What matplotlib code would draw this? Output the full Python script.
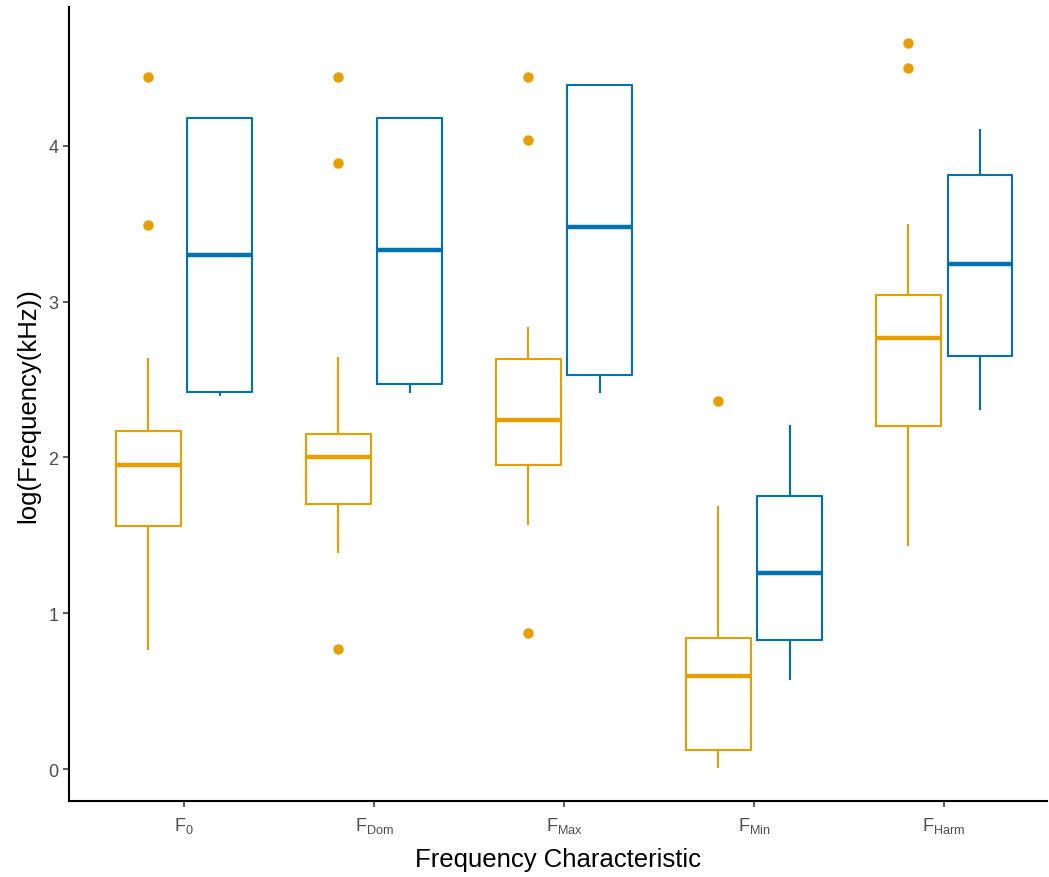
import numpy as np
import matplotlib
matplotlib.use('Agg')
import matplotlib.pyplot as plt

plt.rcParams['font.family'] = ['Liberation Sans', 'DejaVu Sans']

categories = ['F0', 'FDom', 'FMax', 'FMin', 'FHarm']
tick_labels = [r'$\mathregular{F_{0}}$', r'$\mathregular{F_{Dom}}$', r'$\mathregular{F_{Max}}$',
               r'$\mathregular{F_{Min}}$', r'$\mathregular{F_{Harm}}$']

# five-number summaries per characteristic (lower whisker, q1, median, q3, upper whisker)
group_a_low = [0.77, 1.39, 1.57, 0.01, 1.44]
group_a_q1 = [1.56, 1.70, 1.95, 0.12, 2.20]
group_a_med = [1.95, 2.00, 2.24, 0.60, 2.77]
group_a_q3 = [2.17, 2.15, 2.63, 0.84, 3.04]
group_a_high = [2.63, 2.64, 2.83, 1.68, 3.49]
group_a_out = [[4.44, 3.49], [4.44, 3.89, 0.77], [4.44, 4.04, 0.87], [2.36], [4.66, 4.50]]

group_b_low = [2.40, 2.42, 2.42, 0.58, 2.31]
group_b_q1 = [2.42, 2.47, 2.53, 0.83, 2.65]
group_b_med = [3.30, 3.33, 3.48, 1.26, 3.24]
group_b_q3 = [4.18, 4.18, 4.39, 1.75, 3.81]
group_b_high = [4.18, 4.18, 4.39, 2.20, 4.10]
group_b_out = [[], [], [], [], []]

col_a = '#E69F00'
col_b = '#0072B2'


def make_stats(low, q1, med, q3, high, out):
    stats = []
    for i in range(len(low)):
        stats.append({'whislo': low[i], 'q1': q1[i], 'med': med[i], 'q3': q3[i],
                      'whishi': high[i], 'fliers': out[i]})
    return stats


fig = plt.figure(figsize=(10.49, 8.78), dpi=100)
ax = fig.add_axes([0.0658, 0.0866, 0.932, 0.904])

x = np.arange(1, len(categories) + 1)
offset = 0.188
width = 0.34

for stats, pos, col in [
    (make_stats(group_a_low, group_a_q1, group_a_med, group_a_q3, group_a_high, group_a_out), x - offset, col_a),
    (make_stats(group_b_low, group_b_q1, group_b_med, group_b_q3, group_b_high, group_b_out), x + offset, col_b),
]:
    ax.bxp(stats, positions=pos, widths=width, showcaps=False, manage_ticks=False,
           boxprops=dict(color=col, linewidth=1.5),
           whiskerprops=dict(color=col, linewidth=1.5),
           medianprops=dict(color=col, linewidth=3.2, solid_capstyle='butt'),
           flierprops=dict(marker='o', markerfacecolor=col, markeredgecolor=col, markersize=6.5))

ax.set_xlim(0.395, 5.54)
ax.set_ylim(-0.205, 4.89)
ax.set_xticks(x)
ax.set_xticklabels(tick_labels)
ax.set_yticks([0, 1, 2, 3, 4])

ax.spines['top'].set_visible(False)
ax.spines['right'].set_visible(False)
ax.spines['left'].set_linewidth(1.5)
ax.spines['bottom'].set_linewidth(1.5)
ax.tick_params(axis='both', length=4, width=1.1, color='#333333', labelcolor='#4D4D4D', labelsize=13)
ax.tick_params(axis='x', pad=6)

ax.set_xlabel('Frequency Characteristic', fontsize=18.5, labelpad=9)
ax.set_ylabel('log(Frequency(kHz))', fontsize=18.5, labelpad=6)

fig.savefig('out.png', dpi=100)
